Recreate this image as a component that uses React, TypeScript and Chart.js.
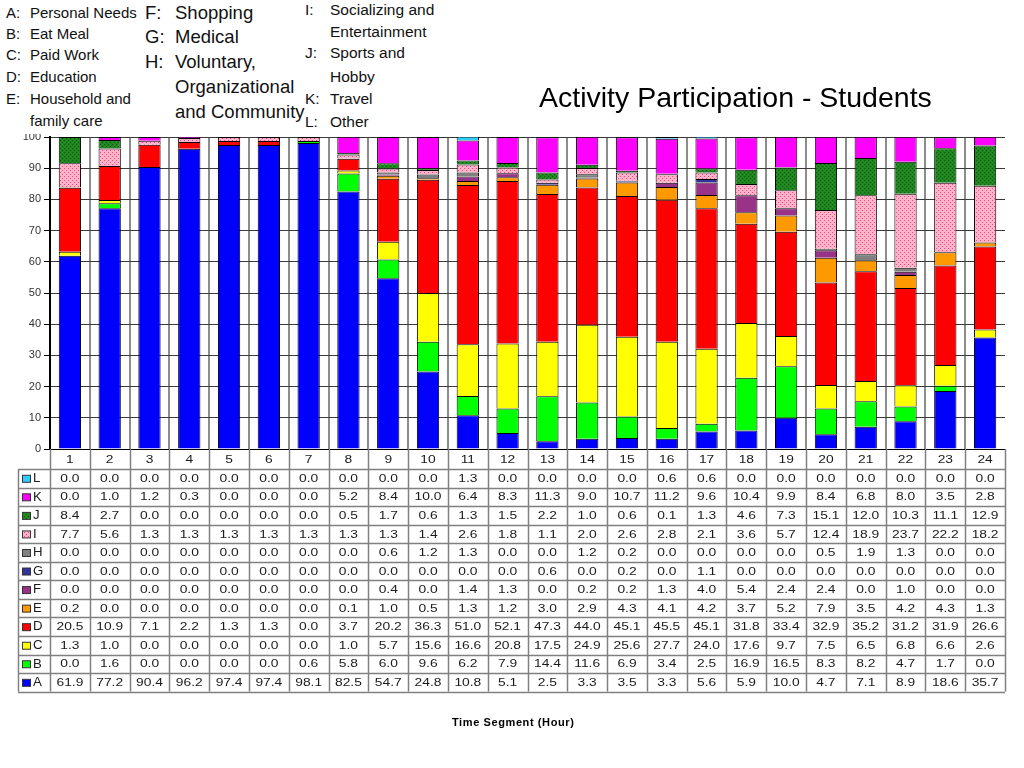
import React, { useEffect, useRef } from "react";
import { Chart, registerables } from "chart.js";

Chart.register(...registerables);

const hours = ["1","2","3","4","5","6","7","8","9","10","11","12","13","14","15","16","17","18","19","20","21","22","23","24"];

const seriesA = [61.9,77.2,90.4,96.2,97.4,97.4,98.1,82.5,54.7,24.8,10.8,5.1,2.5,3.3,3.5,3.3,5.6,5.9,10.0,4.7,7.1,8.9,18.6,35.7];
const seriesB = [0.0,1.6,0.0,0.0,0.0,0.0,0.6,5.8,6.0,9.6,6.2,7.9,14.4,11.6,6.9,3.4,2.5,16.9,16.5,8.3,8.2,4.7,1.7,0.0];
const seriesC = [1.3,1.0,0.0,0.0,0.0,0.0,0.0,1.0,5.7,15.6,16.6,20.8,17.5,24.9,25.6,27.7,24.0,17.6,9.7,7.5,6.5,6.8,6.6,2.6];
const seriesD = [20.5,10.9,7.1,2.2,1.3,1.3,0.0,3.7,20.2,36.3,51.0,52.1,47.3,44.0,45.1,45.5,45.1,31.8,33.4,32.9,35.2,31.2,31.9,26.6];
const seriesE = [0.2,0.0,0.0,0.0,0.0,0.0,0.0,0.1,1.0,0.5,1.3,1.2,3.0,2.9,4.3,4.1,4.2,3.7,5.2,7.9,3.5,4.2,4.3,1.3];
const seriesF = [0.0,0.0,0.0,0.0,0.0,0.0,0.0,0.0,0.4,0.0,1.4,1.3,0.0,0.2,0.2,1.3,4.0,5.4,2.4,2.4,0.0,1.0,0.0,0.0];
const seriesG = [0.0,0.0,0.0,0.0,0.0,0.0,0.0,0.0,0.0,0.0,0.0,0.0,0.6,0.0,0.2,0.0,1.1,0.0,0.0,0.0,0.0,0.0,0.0,0.0];
const seriesH = [0.0,0.0,0.0,0.0,0.0,0.0,0.0,0.0,0.6,1.2,1.3,0.0,0.0,1.2,0.2,0.0,0.0,0.0,0.0,0.5,1.9,1.3,0.0,0.0];
const seriesI = [7.7,5.6,1.3,1.3,1.3,1.3,1.3,1.3,1.3,1.4,2.6,1.8,1.1,2.0,2.6,2.8,2.1,3.6,5.7,12.4,18.9,23.7,22.2,18.2];
const seriesJ = [8.4,2.7,0.0,0.0,0.0,0.0,0.0,0.5,1.7,0.6,1.3,1.5,2.2,1.0,0.6,0.1,1.3,4.6,7.3,15.1,12.0,10.3,11.1,12.9];
const seriesK = [0.0,1.0,1.2,0.3,0.0,0.0,0.0,5.2,8.4,10.0,6.4,8.3,11.3,9.0,10.7,11.2,9.6,10.4,9.9,8.4,6.8,8.0,3.5,2.8];
const seriesL = [0.0,0.0,0.0,0.0,0.0,0.0,0.0,0.0,0.0,0.0,1.3,0.0,0.0,0.0,0.0,0.6,0.6,0.0,0.0,0.0,0.0,0.0,0.0,0.0];

const seriesLetters = ["A","B","C","D","E","F","G","H","I","J","K","L"];
const seriesValues = [seriesA,seriesB,seriesC,seriesD,seriesE,seriesF,seriesG,seriesH,seriesI,seriesJ,seriesK,seriesL];

const yTicks = { min: 0, max: 100, step: 10 };

const titleText = "Activity Participation - Students";
const xTitleText = "Time Segment (Hour)";

const FONT = "'Liberation Sans', Arial, Helvetica, sans-serif";

function makePattern(bg: string, dot: string, dot2?: string): CanvasPattern | string {
  const c = document.createElement("canvas");
  c.width = 4; c.height = 4;
  const g = c.getContext("2d");
  if (!g) return bg;
  g.fillStyle = bg; g.fillRect(0, 0, 4, 4);
  g.fillStyle = dot; g.fillRect(0, 0, 1, 1); g.fillRect(2, 2, 1, 1);
  if (dot2) { g.fillStyle = dot2; g.fillRect(2, 0, 1, 1); g.fillRect(0, 2, 1, 1); }
  return g.createPattern(c, "repeat") || bg;
}

function drawStretched(ctx: CanvasRenderingContext2D, text: string, x: number, y: number, sx: number) {
  ctx.save();
  ctx.translate(x, y);
  ctx.scale(sx, 1);
  ctx.fillText(text, 0, 0);
  ctx.restore();
}

type LegendLine = { t: string; x: number; cy: number; s: number };
const legendLines: LegendLine[] = [
  { t: "A:", x: 6, cy: 12, s: 15 }, { t: "Personal Needs", x: 30, cy: 12, s: 15 },
  { t: "B:", x: 6, cy: 33, s: 15 }, { t: "Eat Meal", x: 30, cy: 33, s: 15 },
  { t: "C:", x: 6, cy: 54, s: 15 }, { t: "Paid Work", x: 30, cy: 54, s: 15 },
  { t: "D:", x: 6, cy: 76, s: 15 }, { t: "Education", x: 30, cy: 76, s: 15 },
  { t: "E:", x: 6, cy: 98, s: 15 }, { t: "Household and", x: 30, cy: 98, s: 15 },
  { t: "family care", x: 30, cy: 120, s: 15 },
  { t: "F:", x: 145, cy: 13, s: 18.5 }, { t: "Shopping", x: 175, cy: 13, s: 18.5 },
  { t: "G:", x: 145, cy: 37, s: 18.5 }, { t: "Medical", x: 175, cy: 37, s: 18.5 },
  { t: "H:", x: 145, cy: 62, s: 18.5 }, { t: "Voluntary,", x: 175, cy: 62, s: 18.5 },
  { t: "Organizational", x: 175, cy: 87, s: 18.5 },
  { t: "and Community", x: 175, cy: 112, s: 18.5 },
  { t: "I:", x: 305, cy: 10, s: 15.5 }, { t: "Socializing and", x: 330, cy: 10, s: 15.5 },
  { t: "Entertainment", x: 330, cy: 32, s: 15.5 },
  { t: "J:", x: 305, cy: 53, s: 15.5 }, { t: "Sports and", x: 330, cy: 53, s: 15.5 },
  { t: "Hobby", x: 330, cy: 77, s: 15.5 },
  { t: "K:", x: 305, cy: 99, s: 15.5 }, { t: "Travel", x: 330, cy: 99, s: 15.5 },
  { t: "L:", x: 305, cy: 122, s: 15.5 }, { t: "Other", x: 330, cy: 122, s: 15.5 },
];

export default function App() {
  const ref = useRef<HTMLCanvasElement>(null);

  useEffect(() => {
    if (!ref.current) return;
    const colors: (string | CanvasPattern)[] = [
      "#0000FF",
      "#00FF00",
      "#FFFF00",
      "#FF0000",
      "#FF9900",
      "#993388",
      "#333399",
      "#808080",
      makePattern("#ffb4cc", "#f0487a"),
      makePattern("#1f861f", "#0e560e", "#2e962e"),
      "#FF00FF",
      "#33CCFF",
    ];

    const tablePlugin = {
      id: "dataTable",
      afterDraw(chart: any) {
        const ctx: CanvasRenderingContext2D = chart.ctx;
        const area = chart.chartArea;
        const n = hours.length;
        const colW = (area.right - area.left) / n;
        const top = area.bottom;
        const headerH = 20;
        const rowH = 18.55;
        const labelLeft = 18;
        const order = [11, 10, 9, 8, 7, 6, 5, 4, 3, 2, 1, 0];
        const bodyTop = top + headerH;
        const bottom = bodyTop + order.length * rowH;

        ctx.save();
        ctx.strokeStyle = "#808080";
        ctx.lineWidth = 1.5;
        for (let r = 0; r <= order.length; r++) {
          const y = Math.round(bodyTop + r * rowH) + 0.5;
          ctx.beginPath(); ctx.moveTo(labelLeft, y); ctx.lineTo(area.right, y); ctx.stroke();
        }
        ctx.beginPath(); ctx.moveTo(labelLeft + 0.5, bodyTop); ctx.lineTo(labelLeft + 0.5, bottom); ctx.stroke();
        for (let i = 0; i <= n; i++) {
          const x = Math.round(area.left + i * colW) + 0.5;
          ctx.beginPath(); ctx.moveTo(x, top); ctx.lineTo(x, bottom); ctx.stroke();
        }

        ctx.fillStyle = "#1a1a1a";
        ctx.textAlign = "center";
        ctx.textBaseline = "middle";
        ctx.font = `11.5px ${FONT}`;
        for (let i = 0; i < n; i++) {
          const cx = chart.scales.x.getPixelForValue(i);
          drawStretched(ctx, hours[i], cx, top + headerH / 2 + 0.5, 1.2);
        }
        order.forEach((si, r) => {
          const cy = bodyTop + r * rowH + rowH / 2 + 0.5;
          const vals = seriesValues[si];
          ctx.fillStyle = "#1a1a1a";
          ctx.textAlign = "center";
          ctx.font = `11.5px ${FONT}`;
          for (let i = 0; i < n; i++) {
            const cx = chart.scales.x.getPixelForValue(i);
            drawStretched(ctx, vals[i].toFixed(1), cx, cy, 1.2);
          }
          ctx.fillStyle = colors[si] as any;
          ctx.fillRect(22.5, cy - 3.5, 8, 7);
          ctx.strokeStyle = "#333";
          ctx.lineWidth = 1;
          ctx.strokeRect(22.5, cy - 3.5, 8, 7);
          ctx.fillStyle = "#1a1a1a";
          ctx.textAlign = "left";
          ctx.font = `12px ${FONT}`;
          drawStretched(ctx, seriesLetters[si], 33, cy, 1.1);
        });
        ctx.restore();
      },
    };

    const chart = new Chart(ref.current, {
      type: "bar",
      data: {
        labels: hours,
        datasets: seriesValues.map((vals, i) => ({
          label: seriesLetters[i],
          data: vals,
          backgroundColor: colors[i] as any,
          borderColor: "#000000",
          borderWidth: 1,
          barPercentage: 0.56,
          categoryPercentage: 1,
        })),
      },
      options: {
        responsive: false,
        animation: false,
        devicePixelRatio: 1,
        layout: { padding: { left: 0, top: 137, right: 19, bottom: 319 } },
        plugins: { legend: { display: false }, tooltip: { enabled: false }, title: { display: false } },
        scales: {
          x: {
            stacked: true,
            ticks: { display: false },
            grid: {
              offset: true,
              drawTicks: false,
              lineWidth: 2,
              color: (c: any) => (c.type === "tick" ? "#8c8c8c" : "rgba(0,0,0,0)"),
            },
            border: { color: "#000", width: 1 },
            afterFit: (s: any) => { s.height = 0; },
          },
          y: {
            stacked: true,
            min: yTicks.min,
            max: yTicks.max,
            ticks: { stepSize: yTicks.step, color: "#333", font: { size: 11, family: FONT }, padding: 3 },
            grid: { color: "#3a3a3a", lineWidth: 1, tickLength: 6, tickColor: "#000" },
            border: { color: "#000", width: 2 },
            afterFit: (s: any) => { s.width = 50; },
          },
        },
      },
      plugins: [tablePlugin],
    });
    return () => chart.destroy();
  }, []);

  return (
    <div style={{ position: "absolute", left: 0, top: 0, width: 1024, height: 768, background: "#fff", fontFamily: FONT }}>
      <canvas ref={ref} width={1024} height={768} style={{ position: "absolute", left: 0, top: 0 }} />
      <div style={{ position: "absolute", left: 0, top: 0, width: 440, height: 134, background: "#fff" }} />
      {legendLines.map((l, i) => (
        <div
          key={i}
          style={{
            position: "absolute",
            left: l.x,
            top: l.cy - l.s / 2,
            fontSize: l.s,
            lineHeight: `${l.s}px`,
            color: "#111",
            whiteSpace: "nowrap",
          }}
        >
          {l.t}
        </div>
      ))}
      <div style={{ position: "absolute", left: 539, top: 97 - 14.25, fontSize: 28.5, lineHeight: "28.5px", color: "#000", whiteSpace: "nowrap" }}>
        {titleText}
      </div>
      <div style={{ position: "absolute", left: 452, top: 722 - 5.5, fontSize: 11, lineHeight: "11px", fontWeight: "bold", letterSpacing: 0.6, color: "#000", whiteSpace: "nowrap" }}>
        {xTitleText}
      </div>
    </div>
  );
}
